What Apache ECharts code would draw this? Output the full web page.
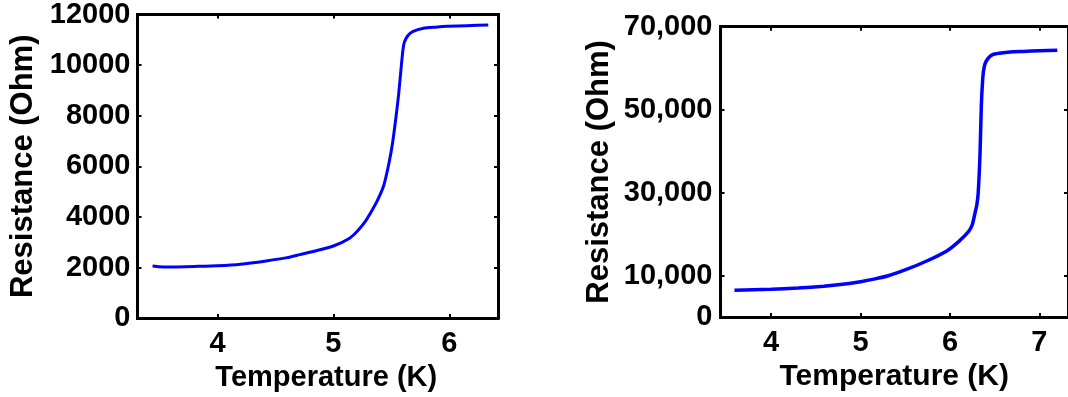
<!DOCTYPE html>
<html>
<head>
<meta charset="utf-8">
<script src="https://cdn.jsdelivr.net/npm/echarts@6/dist/echarts.min.js"></script>
<style>
  html, body { margin: 0; padding: 0; background: #fff; }
  #chart { width: 1068px; height: 397px; }
</style>
</head>
<body>
<div id="chart"></div>
<script>
// Sample A: resistance vs temperature
const tempA = [3.44, 3.50, 3.55, 3.65, 3.80, 4.00, 4.20, 4.42, 4.60, 4.71, 4.85, 5.00, 5.14, 5.21, 5.28, 5.33, 5.38,
  5.435, 5.48, 5.51, 5.54, 5.563, 5.584, 5.600, 5.612, 5.643, 5.688, 5.777, 5.88, 5.985, 6.15, 6.336];
const resA = [2060, 2030, 2015, 2020, 2040, 2070, 2130, 2260, 2390, 2510, 2660, 2850, 3160, 3450, 3850, 4230, 4650,
  5250, 6140, 6910, 7950, 8850, 9880, 10600, 10900, 11170, 11330, 11455, 11500, 11533, 11560, 11584];

// Sample B: resistance vs temperature
const tempB = [3.59, 3.80, 4.00, 4.30, 4.59, 4.80, 5.00, 5.15, 5.31, 5.52, 5.74, 5.96, 6.10, 6.207, 6.25, 6.279,
  6.30, 6.315, 6.336, 6.351, 6.369, 6.385, 6.405, 6.44, 6.477, 6.55, 6.675, 6.82, 7.00, 7.20];
const resB = [6480, 6600, 6720, 7000, 7430, 7900, 8540, 9150, 9960, 11540, 13520, 15890, 18260, 20600, 22300, 24960,
  27000, 29700, 39180, 51030, 58140, 60500, 61700, 62700, 63290, 63600, 63930, 64050, 64200, 64340];

// Tick positions / labels
const xTicksA = [4, 5, 6];
const yTicksA = [0, 2000, 4000, 6000, 8000, 10000, 12000];
const xTicksB = [4, 5, 6, 7];
const yTicksB = [0, 10000, 30000, 50000, 70000];

const FONT = '"Liberation Sans", Arial, Helvetica, sans-serif';
const BLACK = '#000000';

function plain(v) { return String(Math.round(v)); }
function withCommas(v) {
  return String(Math.round(v)).replace(/\B(?=(\d{3})+(?!\d))/g, ',');
}

function lineStyle() {
  return { show: true, onZero: false, lineStyle: { color: BLACK, width: 3, cap: 'square' } };
}
function ticks(values) {
  return { show: true, inside: true, length: 4, customValues: values, lineStyle: { color: BLACK, width: 2 } };
}
function labelStyle(values, margin, formatter) {
  return {
    show: true, customValues: values, margin: margin, color: BLACK,
    fontFamily: FONT, fontWeight: 'bold', fontSize: 29, formatter: formatter
  };
}
function nameStyle(size, padding) {
  const s = { color: BLACK, fontFamily: FONT, fontWeight: 'bold', fontSize: size };
  if (padding) s.padding = padding;
  return s;
}

function xPair(grid, min, max, values, nameGap, nameSize, namePad) {
  return [
    {
      gridIndex: grid, type: 'value', position: 'bottom', min: min, max: max,
      axisLine: lineStyle(), axisTick: ticks(values), axisLabel: labelStyle(values, 11, plain),
      splitLine: { show: false },
      name: 'Temperature (K)', nameLocation: 'middle', nameGap: nameGap,
      nameTextStyle: nameStyle(nameSize, namePad)
    },
    {
      gridIndex: grid, type: 'value', position: 'top', min: min, max: max,
      axisLine: lineStyle(), axisTick: ticks(values), axisLabel: { show: false },
      splitLine: { show: false }
    }
  ];
}
function yPair(grid, min, max, values, margin, formatter, nameGap, nameSize) {
  return [
    {
      gridIndex: grid, type: 'value', position: 'left', min: min, max: max,
      axisLine: lineStyle(), axisTick: ticks(values), axisLabel: labelStyle(values, margin, formatter),
      splitLine: { show: false },
      name: 'Resistance (Ohm)', nameLocation: 'middle', nameGap: nameGap,
      nameTextStyle: nameStyle(nameSize)
    },
    {
      gridIndex: grid, type: 'value', position: 'right', min: min, max: max,
      axisLine: lineStyle(), axisTick: ticks(values), axisLabel: { show: false },
      splitLine: { show: false }
    }
  ];
}

function zip(xs, ys) { return xs.map((x, i) => [x, ys[i]]); }

const chart = echarts.init(document.getElementById('chart'), null, { renderer: 'canvas' });
chart.setOption({
  animation: false,
  backgroundColor: '#ffffff',
  grid: [
    { left: 137.5, top: 11.7, width: 360.5, height: 310 },
    { left: 720.5, top: 26.7, width: 358.3, height: 295.3 }
  ],
  xAxis: [
    ...xPair(0, 3.31, 6.42, xTicksA, 36, 29, [0, 0, 0, 17]),
    ...xPair(1, 3.434, 7.32, xTicksB, 36, 30)
  ],
  yAxis: [
    ...yPair(0, 0, 12000, yTicksA, 7, plain, 99, 31),
    ...yPair(1, 0, 70000, yTicksB, 8, withCommas, 106, 31)
  ],
  series: [
    {
      type: 'line', xAxisIndex: 0, yAxisIndex: 0, data: zip(tempA, resA),
      showSymbol: false, smooth: 0.2, clip: true,
      lineStyle: { color: '#0000ff', width: 3 }
    },
    {
      type: 'line', xAxisIndex: 2, yAxisIndex: 2, data: zip(tempB, resB),
      showSymbol: false, smooth: 0.2, clip: true,
      lineStyle: { color: '#0000ff', width: 3.5 }
    }
  ]
});
</script>
</body>
</html>
